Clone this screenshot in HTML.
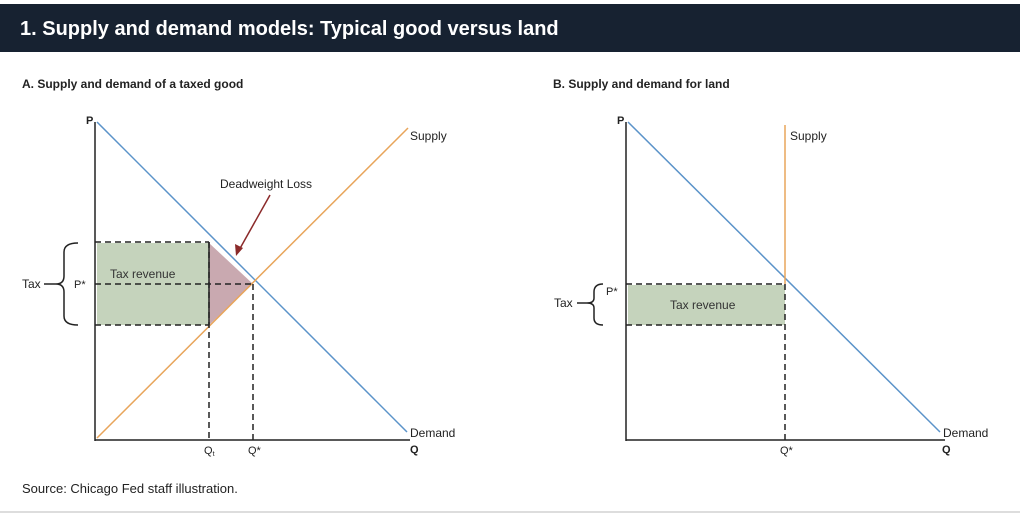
<!DOCTYPE html>
<html><head><style>
body{margin:0;width:1024px;height:519px;background:#fff;overflow:hidden;font-family:"Liberation Sans",sans-serif;}
</style></head><body>
<svg width="1024" height="519" xmlns="http://www.w3.org/2000/svg" font-family="Liberation Sans, sans-serif">
<rect x="0" y="4" width="1020" height="48" fill="#172231"/>
<text x="20" y="35" font-size="20" font-weight="bold" fill="#fff">1. Supply and demand models: Typical good versus land</text>
<text x="22" y="88" font-size="12" font-weight="bold" fill="#222">A. Supply and demand of a taxed good</text>
<text x="553" y="88" font-size="12" font-weight="bold" fill="#222">B. Supply and demand for land</text>
<!-- Chart A -->
<rect x="97" y="243" width="112" height="82" fill="#c5d3bc"/>
<polygon points="209,243 253,284 209,325" fill="#c9a9b0"/>
<line x1="95" y1="122" x2="95" y2="441" stroke="#222" stroke-width="1.5"/>
<line x1="95" y1="440" x2="410" y2="440" stroke="#222" stroke-width="1.5"/>
<line x1="97" y1="122" x2="407" y2="432" stroke="#5b93c9" stroke-width="1.5"/>
<line x1="97" y1="438" x2="408" y2="128" stroke="#e8a55b" stroke-width="1.5"/>
<g stroke="#222" stroke-width="1.5" stroke-dasharray="6,4" fill="none">
<line x1="95" y1="242" x2="209" y2="242"/>
<line x1="95" y1="325" x2="209" y2="325"/>
<line x1="95" y1="284" x2="253" y2="284"/>
<line x1="209" y1="242" x2="209" y2="440"/>
<line x1="253" y1="284" x2="253" y2="440"/>
</g>
<line x1="209" y1="242" x2="209" y2="325" stroke="#222" stroke-width="1.5"/>
<line x1="270" y1="195" x2="238" y2="252" stroke="#8b2a2a" stroke-width="1.5"/>
<polygon points="236,256 235,244 243,248" fill="#8b2a2a"/>
<text x="220" y="188" font-size="12" fill="#222">Deadweight Loss</text>
<text x="110" y="278" font-size="12" fill="#333">Tax revenue</text>
<text x="86" y="124" font-size="11" font-weight="bold" fill="#222">P</text>
<text x="410" y="140" font-size="12" fill="#222">Supply</text>
<text x="410" y="437" font-size="12" fill="#222">Demand</text>
<text x="410" y="453" font-size="11" font-weight="bold" fill="#222">Q</text>
<text x="74" y="288" font-size="11" fill="#222">P*</text>
<text x="22" y="288" font-size="12" fill="#222">Tax</text>
<line x1="44" y1="284" x2="56" y2="284" stroke="#222" stroke-width="1.5"/>
<path d="M78,243 Q64,243 64,252 L64,276 Q64,284 56,284 Q64,284 64,292 L64,316 Q64,325 78,325" fill="none" stroke="#222" stroke-width="1.5"/>
<text x="204" y="454" font-size="11" fill="#222">Q<tspan font-size="7" dy="2">t</tspan></text>
<text x="248" y="454" font-size="11" fill="#222">Q*</text>
<!-- Chart B -->
<rect x="628" y="285" width="157" height="40" fill="#c5d3bc"/>
<line x1="626" y1="122" x2="626" y2="441" stroke="#222" stroke-width="1.5"/>
<line x1="626" y1="440" x2="945" y2="440" stroke="#222" stroke-width="1.5"/>
<line x1="628" y1="122" x2="940" y2="432" stroke="#5b93c9" stroke-width="1.5"/>
<line x1="785" y1="125" x2="785" y2="284" stroke="#e8a55b" stroke-width="1.5"/>
<g stroke="#222" stroke-width="1.5" stroke-dasharray="6,4" fill="none">
<line x1="626" y1="284" x2="785" y2="284"/>
<line x1="626" y1="325" x2="785" y2="325"/>
<line x1="785" y1="284" x2="785" y2="440"/>
</g>
<text x="670" y="309" font-size="12" fill="#333">Tax revenue</text>
<text x="617" y="124" font-size="11" font-weight="bold" fill="#222">P</text>
<text x="790" y="140" font-size="12" fill="#222">Supply</text>
<text x="943" y="437" font-size="12" fill="#222">Demand</text>
<text x="942" y="453" font-size="11" font-weight="bold" fill="#222">Q</text>
<text x="606" y="295" font-size="11" fill="#222">P*</text>
<text x="554" y="307" font-size="12" fill="#222">Tax</text>
<line x1="577" y1="303" x2="587" y2="303" stroke="#222" stroke-width="1.5"/>
<path d="M603,284 Q594,284 594,292 L594,298 Q594,303 587,303 Q594,303 594,308 L594,318 Q594,325 603,325" fill="none" stroke="#222" stroke-width="1.5"/>
<text x="780" y="454" font-size="11" fill="#222">Q*</text>
<text x="22" y="493" font-size="13" fill="#222">Source: Chicago Fed staff illustration.</text>
<line x1="0" y1="512" x2="1020" y2="512" stroke="#bbb" stroke-width="1"/>
</svg>
</body></html>
